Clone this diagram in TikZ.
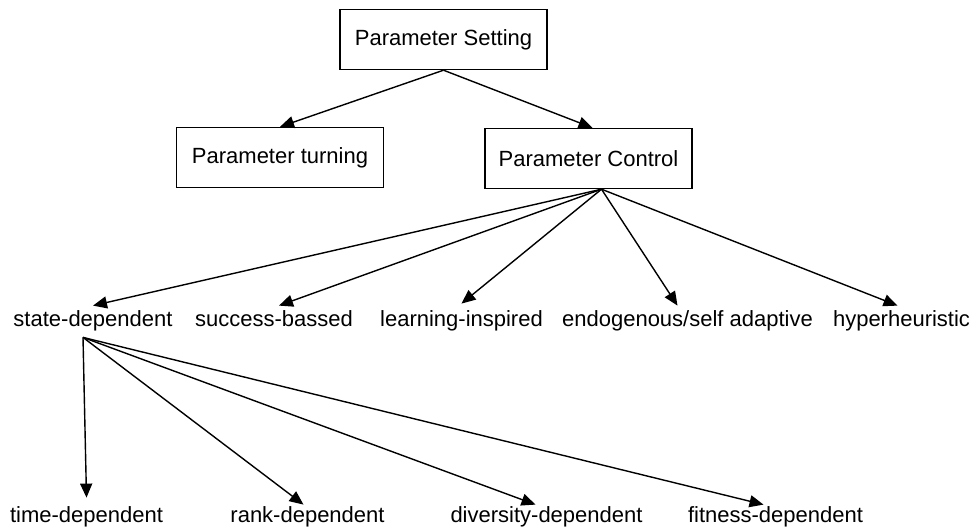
\documentclass[tikz,border=0pt]{standalone}
\usepackage{fontspec}
\setmainfont{Liberation Sans}
\usetikzlibrary{arrows.meta}
\tikzset{
  box/.style={draw, line width=0.7pt, minimum width=103.5pt, minimum height=30pt, inner sep=0pt},
  lbl/.style={inner sep=3pt, text height=8pt, text depth=2.5pt},
  arr/.style={line width=0.7pt, -{Triangle[length=7pt,width=6pt]}}
}
\begin{document}
\begin{tikzpicture}[x=0.5pt, y=-0.5pt, font=\fontsize{11}{13}\selectfont]
    \useasboundingbox (0,0) rectangle (977,531);
    %boxes
    \node[box] (setting) at (443.5,39.5) {Parameter Setting};
    \node[box] (turning) at (280,157.5) {Parameter turning};
    \node[box] (control) at (588.5,158.5) {Parameter Control};
    %middle row
    \node[lbl] (state) at (93,320.5) {state-dependent};
    \node[lbl] (success) at (274,320.5) {success-bassed};
    \node[lbl] (learning) at (461.5,320.5) {learning-inspired};
    \node[lbl] (endo) at (687.5,320.5) {endogenous/self adaptive};
    \node[lbl] (hyper) at (901.5,320.5) {hyperheuristic};
    %bottom row
    \node[lbl] (time) at (86.5,516.5) {time-dependent};
    \node[lbl] (rank) at (307.5,516.5) {rank-dependent};
    \node[lbl] (diversity) at (546.5,516.5) {diversity-dependent};
    \node[lbl] (fitness) at (775.5,516.5) {fitness-dependent};
    \coordinate (hub) at ([xshift=6.5pt]control.south);
    \coordinate (root) at ([xshift=-5pt]state.south);

    \draw[arr] (setting.south) -- (turning.north);
    \draw[arr] (setting.south) -- ([xshift=2pt]control.north);
    \draw[arr] (hub) -- ([yshift=-1pt]state.north);
    \draw[arr] (hub) -- ([xshift=2.5pt,yshift=-1pt]success.north);
    \draw[arr] (hub) -- (learning.north);
    \draw[arr] (hub) -- ([xshift=-5pt,yshift=-1pt]endo.north);
    \draw[arr] (hub) -- ([xshift=-2pt,yshift=-1pt]hyper.north);
    \draw[arr] (root) -- ([yshift=1pt]time.north);
    \draw[arr] (root) -- ([xshift=-2pt,yshift=-2.5pt]rank.north);
    \draw[arr] (root) -- ([xshift=-5.5pt,yshift=-2.5pt]diversity.north);
    \draw[arr] (root) -- ([xshift=-6pt,yshift=-2.5pt]fitness.north);
\end{tikzpicture}
\end{document}
